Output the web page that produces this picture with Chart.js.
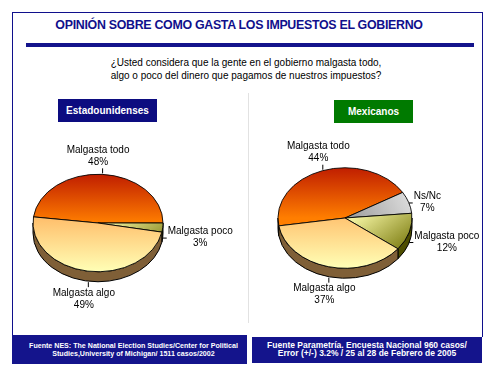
<!DOCTYPE html>
<html>
<head>
<meta charset="utf-8">
<script src="https://cdn.jsdelivr.net/npm/chart.js@4/dist/chart.umd.min.js"></script>
<style>
  body { margin: 0; background: #fff; width: 494px; height: 371px; overflow: hidden; font-family: "Liberation Sans", Arial, sans-serif; }
  .abs { position: absolute; }
  #frame { left: 12px; top: 12px; width: 469px; height: 324px; border: 1px solid #10108c; border-bottom: none; }
  #title { left: 0; width: 478px; top: 18px; text-align: center; color: #10108c; font-size: 12.4px; font-weight: bold; letter-spacing: -0.3px; }
  #rule { left: 26px; top: 43px; width: 448px; height: 4px; background: #14148c; }
  #question { left: 0; width: 492px; top: 56px; text-align: center; font-size: 10px; line-height: 13px; color: #000; }
  .tag { color: #fff; font-weight: bold; font-size: 10px; text-align: center; line-height: 23px; height: 23px; }
  #tagUS { left: 58px; top: 99px; width: 99px; background: #0c0c80; }
  #tagMX { left: 334px; top: 100px; width: 79px; background: #007a00; }
  #divider { left: 248px; top: 93px; width: 1px; height: 230px; background: #e2e2e2; }
  .foot { background: #14148c; color: #fff; font-weight: bold; line-height: 8px; text-align: center; box-sizing: border-box; }
  #footUS { left: 12px; top: 335px; width: 235px; height: 29px; padding-top: 7px; padding-left: 8px; font-size: 7.1px; }
  #footMX { left: 252px; top: 337px; width: 230px; height: 26px; padding-top: 4px; font-size: 8.5px; }
  canvas { position: absolute; }
</style>
</head>
<body>
<div id="frame" class="abs"></div>
<div id="title" class="abs">OPINIÓN SOBRE COMO GASTA LOS IMPUESTOS EL GOBIERNO</div>
<div id="rule" class="abs"></div>
<div id="question" class="abs">¿Usted considera que la gente en el gobierno malgasta todo,<br>algo o poco del dinero que pagamos de nuestros impuestos?</div>
<div id="divider" class="abs"></div>
<div id="tagUS" class="abs tag">Estadounidenses</div>
<div id="tagMX" class="abs tag">Mexicanos</div>
<canvas id="pieUS" width="240" height="200" style="left:0px;top:120px"></canvas>
<canvas id="pieMX" width="240" height="200" style="left:248px;top:120px"></canvas>
<div id="footUS" class="abs foot">Fuente NES: The National Election Studies/Center for Political<br>Studies,University of Michigan/ 1511 casos/2002</div>
<div id="footMX" class="abs foot">Fuente Parametría. Encuesta Nacional 960 casos/<br>Error (+/-) 3.2% / 25 al 28 de Febrero de 2005</div>

<script>
// data
const categoriesUS = ['Malgasta todo', 'Malgasta poco', 'Malgasta algo'];
const valuesUS = [48, 3, 49];
const categoriesMX = ['Malgasta todo', 'Ns/Nc', 'Malgasta poco', 'Malgasta algo'];
const valuesMX = [44, 7, 12, 37];

const TILT = 0.75;   // vertical squash of the pie face
const DEPTH = 10;    // thickness of the pie side

// side colours of each slice
const sideColors = {
  'Malgasta todo': '#8a2a00',
  'Malgasta algo': '#7f5f37',
  'Malgasta poco': '#4e4e00',
  'Ns/Nc': '#6e6e6e'
};

function sliceFill(c) {
  const chart = c.chart, a = chart.chartArea;
  if (!a) return '#ccc';
  const cx = (a.left + a.right) / 2, cy = (a.top + a.bottom) / 2;
  const r = chart.options.radius;
  const name = chart.data.labels[c.dataIndex];
  const ctx = chart.ctx;
  let g;
  if (name === 'Malgasta todo') {
    g = ctx.createLinearGradient(0, cy - r, 0, cy);
    g.addColorStop(0, '#c01e00');
    g.addColorStop(1, '#ff7e00');
  } else if (name === 'Malgasta algo') {
    g = ctx.createLinearGradient(0, cy - 0.1 * r, 0, cy + r);
    g.addColorStop(0, '#ffbf6c');
    g.addColorStop(1, '#ffffb6');
  } else if (name === 'Malgasta poco') {
    g = ctx.createLinearGradient(cx + 0.2 * r, cy - 0.1 * r, cx + r, cy + 0.7 * r);
    g.addColorStop(0, '#f6f6a4');
    g.addColorStop(1, '#6e6e00');
  } else {
    g = ctx.createLinearGradient(cx, cy, cx + r, cy - 0.4 * r);
    g.addColorStop(0, '#9a9a9a');
    g.addColorStop(1, '#dedede');
  }
  return g;
}

// squashes the pie into an ellipse and draws its side
const pie3d = {
  id: 'pie3d',
  beforeDatasetsDraw(chart) {
    const ctx = chart.ctx;
    const meta = chart.getDatasetMeta(0);
    ctx.save();
    meta.data.forEach((arc, i) => {
      const p = arc.getProps(['x', 'y', 'startAngle', 'endAngle', 'outerRadius'], true);
      for (const n of [-2, 0, 2, 4]) {
        const s = Math.max(p.startAngle + n * Math.PI, 0);
        const e = Math.min(p.endAngle + n * Math.PI, Math.PI);
        if (e <= s) continue;
        ctx.beginPath();
        ctx.ellipse(p.x, p.y, p.outerRadius, p.outerRadius * TILT, 0, s, e, false);
        ctx.ellipse(p.x, p.y + DEPTH, p.outerRadius, p.outerRadius * TILT, 0, e, s, true);
        ctx.closePath();
        ctx.fillStyle = sideColors[chart.data.labels[i]];
        ctx.fill();
        ctx.lineWidth = 1;
        ctx.strokeStyle = '#000';
        ctx.stroke();
      }
    });
    ctx.restore();
    const c = meta.data[0];
    ctx.save();
    ctx.translate(c.x, c.y);
    ctx.scale(1, TILT);
    ctx.translate(-c.x, -c.y);
  },
  afterDatasetsDraw(chart) {
    chart.ctx.restore();
  },
  afterDraw(chart) {
    const ctx = chart.ctx;
    const meta = chart.getDatasetMeta(0);
    ctx.save();
    ctx.font = '10px "Liberation Sans", Arial, sans-serif';
    ctx.fillStyle = '#000';
    ctx.strokeStyle = '#000';
    ctx.lineWidth = 1;
    ctx.textBaseline = 'middle';
    meta.data.forEach((arc, i) => {
      const p = arc.getProps(['x', 'y', 'startAngle', 'endAngle', 'outerRadius'], true);
      const mid = (p.startAngle + p.endAngle) / 2;
      const c = Math.cos(mid), s = Math.sin(mid);
      const ax = p.x + p.outerRadius * c;
      let ay = p.y + p.outerRadius * TILT * s;
      if (s > 0) ay += DEPTH;
      const name = chart.data.labels[i];
      const pct = chart.data.datasets[0].data[i] + '%';
      ctx.beginPath();
      if (s < -0.6) {
        ctx.moveTo(ax + 0.5, ay - 1); ctx.lineTo(ax + 0.5, ay - 6); ctx.stroke();
        ctx.textAlign = 'center';
        ctx.fillText(name, ax - 4, ay - 24);
        ctx.fillText(pct, ax - 4, ay - 12);
      } else if (s > 0.6) {
        ctx.moveTo(ax + 0.5, ay + 1); ctx.lineTo(ax + 0.5, ay + 6); ctx.stroke();
        ctx.textAlign = 'center';
        ctx.fillText(name, ax - 4, ay + 12);
        ctx.fillText(pct, ax - 4, ay + 24);
      } else {
        const w = ctx.measureText(name).width;
        const dir = c > 0 ? 1 : -1;
        ctx.moveTo(ax, ay + 0.5); ctx.lineTo(ax + 4 * dir, ay + 0.5); ctx.stroke();
        ctx.textAlign = c > 0 ? 'left' : 'right';
        ctx.fillText(name, ax + 5 * dir, ay - 6);
        ctx.textAlign = 'center';
        ctx.fillText(pct, ax + 5 * dir + dir * w / 2, ay + 6);
      }
    });
    ctx.restore();
  }
};

function makePie(id, labels, values, rotation, radius, padding) {
  return new Chart(document.getElementById(id), {
    type: 'pie',
    data: {
      labels: labels,
      datasets: [{
        data: values,
        backgroundColor: sliceFill,
        borderColor: '#000',
        borderWidth: 1
      }]
    },
    options: {
      responsive: false,
      animation: false,
      events: [],
      rotation: rotation,
      radius: radius,
      layout: { padding: padding },
      plugins: {
        legend: { display: false },
        tooltip: { enabled: false }
      }
    },
    plugins: [pie3d]
  });
}

makePie('pieUS', categoriesUS, valuesUS, 277.2, 65, { left: 0, right: 44, top: 6, bottom: 0 });
makePie('pieMX', categoriesMX, valuesMX, 261, 67, { left: 0, right: 46, top: 0, bottom: 4 });
</script>
</body>
</html>
